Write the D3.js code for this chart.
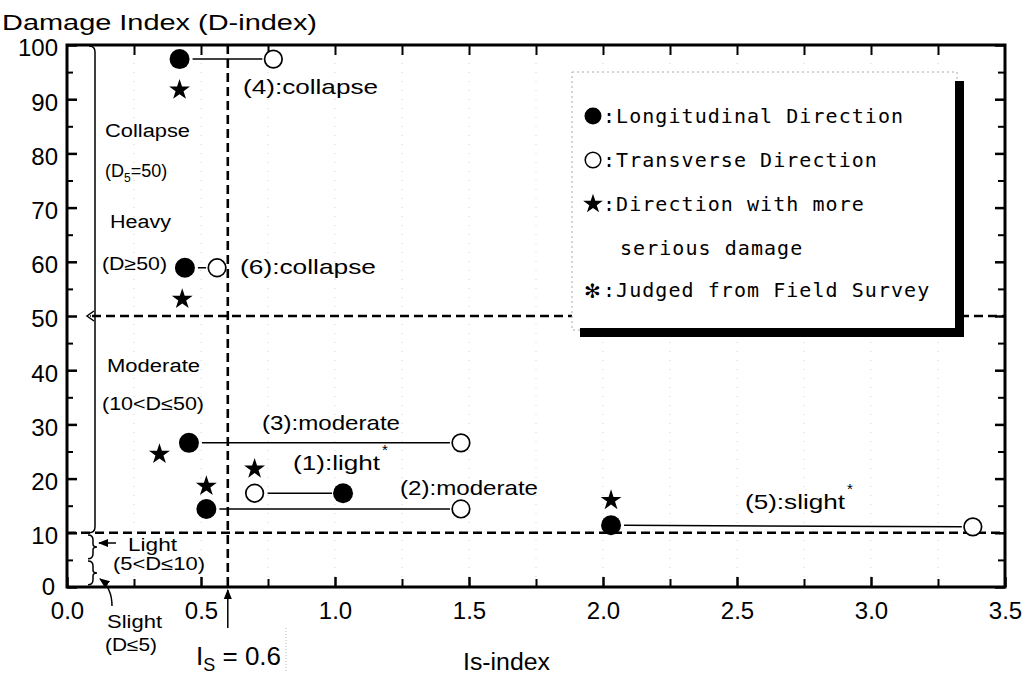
<!DOCTYPE html>
<html><head><meta charset="utf-8">
<script src="https://cdn.jsdelivr.net/npm/d3@7"></script>
<style>
body{margin:0;background:#fff;}
text{font-family:"Liberation Sans",Arial,sans-serif;fill:#000;}
.mono{font-family:"DejaVu Sans Mono","Liberation Mono",monospace;}
</style></head>
<body>
<svg id="chart" width="1027" height="679"></svg>
<script>
// ---- data ----
const buildings   = ["(1):light", "(2):moderate", "(3):moderate", "(4):collapse", "(5):slight", "(6):collapse"];
const fieldSurvey = [true, false, false, false, true, false];
const longIs  = [1.03, 0.52, 0.455, 0.42, 2.03, 0.44];
const longD   = [17.3, 14.4, 26.6, 97.4, 11.4, 58.9];
const transIs = [0.70, 1.47, 1.47, 0.77, 3.38, 0.56];
const transD  = [17.3, 14.4, 26.6, 97.4, 11.1, 58.9];
const starIs  = [0.70, 0.52, 0.345, 0.42, 2.03, 0.43];
const starD   = [21.8, 18.6, 24.5, 91.7, 16.0, 53.1];
const xTicks = [0, 0.5, 1.0, 1.5, 2.0, 2.5, 3.0, 3.5];
const yTicks = [0, 10, 20, 30, 40, 50, 60, 70, 80, 90, 100];
const isLimit = 0.6;
const levelLines = [50, 10];

// ---- layout (annotation placement, pixels) ----
const labelPos = [
  {x:293, y:470, w:87},  {x:400, y:495, w:138}, {x:262, y:430, w:138},
  {x:243, y:94, w:135},  {x:745, y:509, w:100}, {x:240, y:274, w:136}
];

const svg = d3.select("#chart");
const x = d3.scaleLinear().domain([0, 3.5]).range([67, 1005]);
const y = d3.scaleLinear().domain([0, 100]).range([587, 45]);

// faint dotted grid
svg.append("g").selectAll("line").data(d3.range(0.25, 3.5, 0.25)).join("line")
  .attr("x1", d => x(d)).attr("x2", d => x(d)).attr("y1", y(100)).attr("y2", y(0))
  .attr("stroke", "#d4d4d4").attr("stroke-width", 1).attr("stroke-dasharray", "1,8");

// dashed threshold lines
svg.append("g").selectAll("line").data(levelLines).join("line")
  .attr("x1", d => d === 50 ? 92 : x(0)).attr("x2", x(3.5))
  .attr("y1", d => y(d)).attr("y2", d => y(d))
  .attr("stroke", "#000").attr("stroke-width", 2.6).attr("stroke-dasharray", "9,5");
svg.append("line").attr("x1", x(isLimit)).attr("x2", x(isLimit)).attr("y1", y(100)).attr("y2", y(0))
  .attr("stroke", "#000").attr("stroke-width", 2.6).attr("stroke-dasharray", "9,5");

// axes
const major = (g) => g.select(".domain").remove();
svg.append("g").attr("transform", `translate(${x(0)},0)`)
  .call(d3.axisLeft(y).tickValues(yTicks).tickSize(-10).tickPadding(9).tickFormat(d3.format("d")))
  .call(major)
  .call(g => g.selectAll("text").attr("font-size", 24).attr("dy", d => d === 0 ? "0.3em" : "0.45em").attr("dx", d => d === 0 ? -3 : 0))
  .call(g => g.selectAll("line").attr("stroke-width", 2.5));
svg.append("g").attr("transform", `translate(${x(0)},0)`)
  .call(d3.axisLeft(y).tickValues(d3.range(5, 100, 10)).tickSize(-6).tickFormat(""))
  .call(major).call(g => g.selectAll("line").attr("stroke-width", 2));
svg.append("g").attr("transform", `translate(${x(3.5)},0)`)
  .call(d3.axisRight(y).tickValues(yTicks).tickSize(-10).tickFormat(""))
  .call(major).call(g => g.selectAll("line").attr("stroke-width", 2.5));
svg.append("g").attr("transform", `translate(${x(3.5)},0)`)
  .call(d3.axisRight(y).tickValues(d3.range(5, 100, 10)).tickSize(-7).tickFormat(""))
  .call(major).call(g => g.selectAll("line").attr("stroke-width", 2));
svg.append("g").attr("transform", `translate(0,${y(0)})`)
  .call(d3.axisBottom(x).tickValues(xTicks).tickSize(-10).tickPadding(15).tickFormat(d3.format(".1f")))
  .call(major)
  .call(g => g.selectAll("text").attr("font-size", 24))
  .call(g => g.selectAll("line").attr("stroke-width", 2.5));
svg.append("g").attr("transform", `translate(0,${y(0)})`)
  .call(d3.axisBottom(x).tickValues(d3.range(0.25, 3.5, 0.5)).tickSize(-8).tickFormat(""))
  .call(major).call(g => g.selectAll("line").attr("stroke-width", 2));
svg.append("g").attr("transform", `translate(0,${y(100)})`)
  .call(d3.axisTop(x).tickValues(d3.range(0.25, 3.5, 0.25)).tickSize(-10).tickFormat(""))
  .call(major).call(g => g.selectAll("line").attr("stroke-width", 2));
// frame
svg.append("rect").attr("x", x(0)).attr("y", y(100)).attr("width", x(3.5) - x(0)).attr("height", y(0) - y(100))
  .attr("fill", "none").attr("stroke", "#000").attr("stroke-width", 3);

// left bracket of damage classes
const br = svg.append("g").attr("fill", "none").attr("stroke", "#000").attr("stroke-width", 1.5);
br.append("path").attr("d", `M89,${y(100)+1} Q95,${y(100)+1} 95,${y(100)+7} L95,${y(10)-6} Q95,${y(10)} 89,${y(10)}`);
br.append("path").attr("d", `M94,${y(50)-5} L87,${y(50)} L94,${y(50)+5}`);
br.append("line").attr("x1", 87).attr("x2", 95).attr("y1", y(50)).attr("y2", y(50)).attr("stroke-dasharray", "1,2");
// small braces for light / slight
function brace(d0, d1) {
  const a = y(d0), b = y(d1), m = (a + b) / 2;
  return `M88,${a} Q93,${a} 93,${a+5} L93,${m-3} Q93,${m} 97,${m} Q93,${m} 93,${m+3} L93,${b-5} Q93,${b} 88,${b}`;
}
br.append("path").attr("d", brace(9.6, 5.2));
br.append("path").attr("d", brace(4.8, 0.4));
// arrows
svg.append("defs").append("marker").attr("id", "ah").attr("viewBox", "0 0 10 10").attr("refX", 9).attr("refY", 5)
  .attr("markerWidth", 7).attr("markerHeight", 7).attr("orient", "auto-start-reverse")
  .append("path").attr("d", "M0,1 L10,5 L0,9 Z").attr("fill", "#000");
svg.append("line").attr("x1", 116).attr("x2", 99).attr("y1", 543).attr("y2", 543)
  .attr("stroke", "#000").attr("stroke-width", 1.5).attr("marker-end", "url(#ah)");
svg.append("path").attr("d", "M112,606 Q112,588 100,579").attr("fill", "none")
  .attr("stroke", "#000").attr("stroke-width", 1.5).attr("marker-end", "url(#ah)");
svg.append("line").attr("x1", x(isLimit)).attr("x2", x(isLimit)).attr("y1", 628).attr("y2", 590)
  .attr("stroke", "#000").attr("stroke-width", 1.5).attr("marker-end", "url(#ah)");
svg.append("line").attr("x1", 286).attr("x2", 286).attr("y1", 628).attr("y2", 672)
  .attr("stroke", "#bbb").attr("stroke-width", 1).attr("stroke-dasharray", "1,2");

// bracket texts
const bt = [
  {t:"Collapse", x:105, y:137, w:85},
  {t:"Heavy", x:110, y:228, w:61},
  {t:"Moderate", x:107, y:372, w:93},
  {t:"Light", x:128, y:551, w:49},
  {t:"Slight", x:107, y:628, w:55}
];
svg.append("g").selectAll("text").data(bt).join("text")
  .attr("x", d => d.x).attr("y", d => d.y).attr("font-size", 18)
  .attr("textLength", d => d.w).attr("lengthAdjust", "spacingAndGlyphs").text(d => d.t);
const t1 = svg.append("text").attr("x", 105).attr("y", 177).attr("font-size", 18);
t1.append("tspan").text("(D");
t1.append("tspan").attr("font-size", 12).attr("dy", 5).text("5");
t1.append("tspan").attr("dy", -5).text("=50)");
const lt = [
  {t:"(D≥50)", x:102, y:270, w:65},
  {t:"(10<D≤50)", x:102, y:410, w:102},
  {t:"(5<D≤10)", x:113, y:570, w:92},
  {t:"(D≤5)", x:105, y:651, w:52}
];
svg.append("g").selectAll("text").data(lt).join("text")
  .attr("x", d => d.x).attr("y", d => d.y).attr("font-size", 18)
  .attr("textLength", d => d.w).attr("lengthAdjust", "spacingAndGlyphs").text(d => d.t);

// connection lines
const idx = d3.range(buildings.length);
svg.append("g").selectAll("line").data(idx).join("line")
  .attr("x1", i => Math.min(x(longIs[i]), x(transIs[i])) + 13)
  .attr("x2", i => Math.max(x(longIs[i]), x(transIs[i])) - 11)
  .attr("y1", i => y(longD[i])).attr("y2", i => y(transD[i]) )
  .attr("stroke", "#000").attr("stroke-width", 1.5);

// markers
svg.append("g").selectAll("circle").data(idx).join("circle")
  .attr("cx", i => x(transIs[i])).attr("cy", i => y(transD[i])).attr("r", 8.8)
  .attr("fill", "#fff").attr("stroke", "#000").attr("stroke-width", 1.7);
svg.append("g").selectAll("circle").data(idx).join("circle")
  .attr("cx", i => x(longIs[i])).attr("cy", i => y(longD[i])).attr("r", 10).attr("fill", "#000");
const star = d3.symbol().type(d3.symbolStar).size(135);
svg.append("g").selectAll("path").data(idx).join("path")
  .attr("transform", i => `translate(${x(starIs[i])},${y(starD[i])})`).attr("d", star).attr("fill", "#000");

// building labels
svg.append("g").selectAll("text").data(idx).join("text")
  .attr("x", i => labelPos[i].x).attr("y", i => labelPos[i].y).attr("font-size", 21)
  .attr("textLength", i => labelPos[i].w).attr("lengthAdjust", "spacingAndGlyphs").text(i => buildings[i]);
svg.append("g").selectAll("text").data(idx.filter(i => fieldSurvey[i])).join("text")
  .attr("x", i => labelPos[i].x + labelPos[i].w + 2).attr("y", i => labelPos[i].y - 15)
  .attr("font-size", 15).text("*");

// axis titles
svg.append("text").attr("x", 2).attr("y", 30).attr("font-size", 22)
  .attr("textLength", 315).attr("lengthAdjust", "spacingAndGlyphs").text("Damage Index (D-index)");
svg.append("text").attr("x", 463).attr("y", 670).attr("font-size", 23)
  .attr("textLength", 87).attr("lengthAdjust", "spacingAndGlyphs").text("Is-index");
const is = svg.append("text").attr("x", 196).attr("y", 665).attr("font-size", 26);
is.append("tspan").text("I");
is.append("tspan").attr("font-size", 18).attr("dy", 6).text("S");
is.append("tspan").attr("dy", -6).text(" = 0.6");

// legend
const lg = svg.append("g");
lg.append("rect").attr("x", 572).attr("y", 72).attr("width", 385).attr("height", 258)
  .attr("fill", "#fff").attr("stroke", "#aaa").attr("stroke-width", 1).attr("stroke-dasharray", "2,3");
lg.append("rect").attr("x", 955).attr("y", 81).attr("width", 9).attr("height", 256).attr("fill", "#000");
lg.append("rect").attr("x", 580).attr("y", 328).attr("width", 384).attr("height", 9).attr("fill", "#000");
lg.append("circle").attr("cx", 593).attr("cy", 116).attr("r", 8.5).attr("fill", "#000");
lg.append("circle").attr("cx", 593).attr("cy", 160).attr("r", 7.8).attr("fill", "#fff").attr("stroke", "#000").attr("stroke-width", 1.5);
lg.append("path").attr("transform", "translate(593,204)").attr("d", d3.symbol().type(d3.symbolStar).size(120)()).attr("fill", "#000");
const legendRows = [
  {t:":Longitudinal Direction", x:603, y:123},
  {t:":Transverse Direction", x:603, y:167},
  {t:":Direction with more", x:603, y:211},
  {t:"serious damage", x:620, y:255},
  {t:":Judged from Field Survey", x:603, y:297}
];
lg.selectAll("text.row").data(legendRows).join("text").attr("class", "mono row")
  .attr("x", d => d.x).attr("y", d => d.y).attr("font-size", 20).attr("letter-spacing", 1.05).text(d => d.t);
lg.append("text").attr("x", 584).attr("y", 298).attr("font-size", 20)
  .style("font-family", "'DejaVu Sans'").text("✻");
</script>
</body></html>
